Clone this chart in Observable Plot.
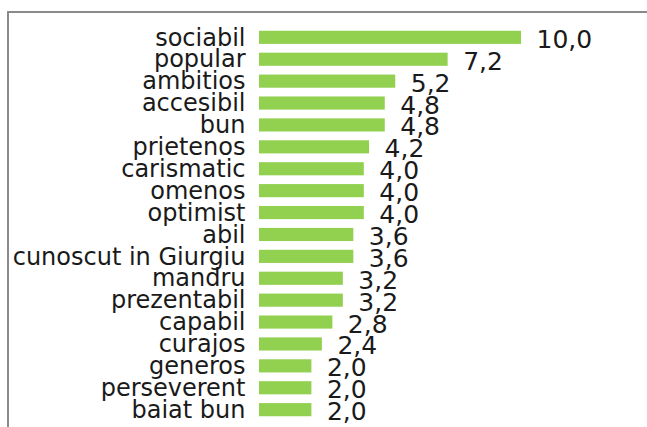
<!DOCTYPE html>
<html>
<head>
<meta charset="utf-8">
<script src="https://cdn.jsdelivr.net/npm/d3@7"></script>
<script src="https://cdn.jsdelivr.net/npm/@observablehq/plot@0.6"></script>
<style>
  html, body { margin: 0; padding: 0; background: #fff; overflow: hidden; }
  #wrap { position: relative; width: 647px; height: 427px; overflow: hidden; }
  #frame { position: absolute; left: 7px; top: 11px; width: 700px; height: 500px;
           border-left: 2px solid #8a8a8a; border-top: 2px solid #8a8a8a; box-sizing: border-box; }
  #chart { position: absolute; left: 0; top: 0; }
</style>
</head>
<body>
<div id="wrap"><div id="chart"></div><div id="frame"></div></div>
<script>
const categories = ["sociabil","popular","ambitios","accesibil","bun","prietenos","carismatic","omenos","optimist","abil","cunoscut in Giurgiu","mandru","prezentabil","capabil","curajos","generos","perseverent","baiat bun"];
const values = [10.0, 7.2, 5.2, 4.8, 4.8, 4.2, 4.0, 4.0, 4.0, 3.6, 3.6, 3.2, 3.2, 2.8, 2.4, 2.0, 2.0, 2.0];

const data = categories.map((c, i) => ({category: c, value: values[i]}));
const fmt = v => d3.format(".1f")(v).replace(".", ",");
const font = "'DejaVu Sans', sans-serif";

const chart = Plot.plot({
  width: 647,
  height: 427,
  marginLeft: 259,
  marginRight: 126,
  marginTop: 22,
  marginBottom: 2,
  style: {fontFamily: font, background: "transparent"},
  x: {domain: [0, 10], axis: null},
  y: {domain: categories, padding: 0.4, round: false, label: null},
  marks: [
    Plot.barX(data, {x: "value", y: "category", fill: "#92D050"}),
    Plot.text(data, {x: "value", y: "category", text: d => fmt(d.value), textAnchor: "start", dx: 15, dy: 2, fontSize: 25, fill: "#1a1a1a"}),
    Plot.axisY({tickSize: 0, tickPadding: 14, fontSize: 24, fill: "#1a1a1a", label: null})
  ]
});
document.getElementById("chart").appendChild(chart);
</script>
</body>
</html>
